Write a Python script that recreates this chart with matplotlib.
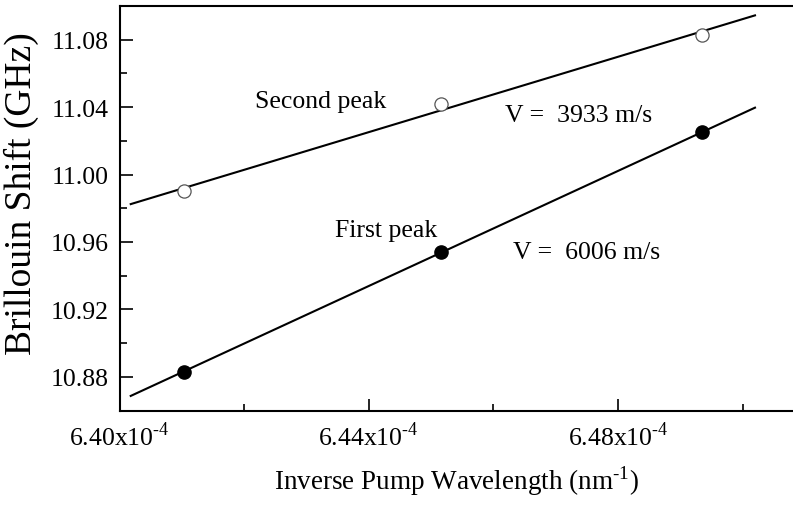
import numpy as np
import matplotlib
matplotlib.use("Agg")
import matplotlib.pyplot as plt
from matplotlib.ticker import MultipleLocator, FuncFormatter

plt.rcParams['font.family'] = ['Liberation Serif', 'DejaVu Serif']
plt.rcParams['mathtext.fontset'] = 'custom'
plt.rcParams['mathtext.rm'] = 'Liberation Serif'

# inverse pump wavelength (nm^-1)
inv_wl = [6.4103e-4, 6.4516e-4, 6.4935e-4]
# Brillouin shift (GHz)
first_peak = [10.883, 10.954, 11.025]
second_peak = [10.990, 11.042, 11.083]

fit_range = [6.4018e-4, 6.5020e-4]

fig = plt.figure(figsize=(7.93, 5.06), dpi=100)
ax = fig.add_axes([0.1507, 0.1867, 0.8493, 0.7995])

xs = np.linspace(fit_range[0], fit_range[1], 50)
for vals in (first_peak, second_peak):
    k, b = np.polyfit(inv_wl, vals, 1)
    ax.plot(xs, k * xs + b, color='black', lw=1.5, zorder=2)

ax.plot(inv_wl, first_peak, 'o', color='black', ms=9.5, zorder=3)
ax.plot(inv_wl, second_peak, 'o', mfc='white', mec='#555555', mew=0.9, ms=9.5, zorder=3)

ax.text(6.4217e-4, 11.0439, 'Second peak', fontsize=18.5, va='center')
ax.text(6.4346e-4, 10.9673, 'First peak', fontsize=18.5, va='center')
ax.text(6.4619e-4, 11.0352, 'V =  3933 m/s', fontsize=18.5, va='center')
ax.text(6.4632e-4, 10.9540, 'V =  6006 m/s', fontsize=18.5, va='center')

ax.set_xlim(6.40e-4, 6.5081e-4)
ax.set_ylim(10.86, 11.10)

ax.xaxis.set_major_locator(MultipleLocator(0.04e-4))
ax.xaxis.set_minor_locator(MultipleLocator(0.02e-4))
ax.yaxis.set_major_locator(MultipleLocator(0.04))
ax.yaxis.set_minor_locator(MultipleLocator(0.02))


def xfmt(v, pos):
    return '%.2fx10$^{\\mathregular{\u2010}\\mathregular{4}}$' % (v * 1e4)


ax.xaxis.set_major_formatter(FuncFormatter(xfmt))
ax.yaxis.set_major_formatter(FuncFormatter(lambda v, p: '%.2f' % v))

ax.tick_params(which='both', direction='in', top=False, right=False, labelsize=18.5, width=1.2)
ax.tick_params(which='major', length=9, pad=8)
ax.tick_params(which='minor', length=5)

ax.spines['right'].set_visible(False)
for s in ('left', 'bottom', 'top'):
    ax.spines[s].set_linewidth(1.5)

ax.set_xlabel('Inverse Pump Wavelength (nm$^{\\mathregular{\u2010}\\mathregular{1}}$)',
              fontsize=19.5, labelpad=9)
ax.set_ylabel('Brillouin Shift (GHz)', fontsize=27)
ax.yaxis.set_label_coords(-0.119, 0.539)

fig.savefig('out.png', dpi=100)
